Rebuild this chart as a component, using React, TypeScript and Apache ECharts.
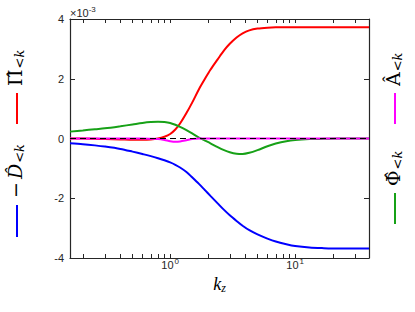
import React, { useEffect, useRef } from "react";
import * as echarts from "echarts";

const kRange = [0.158, 39];
const kz = [0.158, 0.2, 0.25, 0.3, 0.4, 0.5, 0.6, 0.7, 0.8, 0.9, 1.0, 1.1, 1.2, 1.35, 1.5, 1.7, 1.9, 2.1, 2.4, 2.7, 3.0, 3.4, 3.8, 4.3, 5.0, 6.0, 7.0, 8.5, 10, 13, 17, 22, 30, 39];
const piLess = [0.0, 0.0, -0.01, -0.02, -0.03, -0.04, -0.04, -0.03, 0.0, 0.06, 0.15, 0.3, 0.5, 0.85, 1.2, 1.65, 2.0, 2.3, 2.65, 2.95, 3.17, 3.38, 3.52, 3.62, 3.68, 3.71, 3.72, 3.72, 3.72, 3.72, 3.72, 3.72, 3.72, 3.72];
const dLess = [-0.16, -0.19, -0.23, -0.27, -0.35, -0.44, -0.52, -0.59, -0.66, -0.73, -0.8, -0.88, -0.97, -1.12, -1.3, -1.52, -1.73, -1.92, -2.17, -2.39, -2.57, -2.76, -2.92, -3.07, -3.21, -3.35, -3.45, -3.54, -3.6, -3.65, -3.67, -3.68, -3.68, -3.68];
const phiLess = [0.23, 0.27, 0.31, 0.34, 0.41, 0.47, 0.52, 0.55, 0.56, 0.55, 0.52, 0.46, 0.39, 0.28, 0.17, 0.03, -0.07, -0.16, -0.29, -0.39, -0.46, -0.51, -0.52, -0.48, -0.39, -0.26, -0.17, -0.09, -0.05, -0.02, -0.01, 0.0, 0.0, 0.0];
const aLess = [0.0, 0.0, 0.0, 0.0, 0.0, 0.0, 0.0, -0.01, -0.02, -0.05, -0.09, -0.11, -0.1, -0.06, -0.02, 0.0, 0.0, 0.0, 0.0, 0.0, 0.0, 0.0, 0.0, 0.0, 0.0, 0.0, 0.0, 0.0, 0.0, 0.0, 0.0, 0.0, 0.0, 0.0];
const labelTicks = [1, 10];
const allTicks = [0.2, 0.3, 0.4, 0.5, 0.6, 0.7, 0.8, 0.9, 1, 2, 3, 4, 5, 6, 7, 8, 9, 10, 20, 30];
const yRange = [-4, 4];
const yStep = 2;

const AX = "#262626";
const LBL = "#262626";
const SANS = "'Liberation Sans', Arial, sans-serif";
const SERIF = "'Liberation Serif', 'DejaVu Serif', serif";
const LF = "'DejaVu Serif', serif";

const GRID = { left: 70, right: 46, top: 19, bottom: 54 };
const W = 415;
const H = 312;
const plotW = W - GRID.left - GRID.right;
const plotH = H - GRID.top - GRID.bottom;

const legendRich = {
  m: { fontFamily: LF, fontSize: 19, color: "#000" },
  n: { fontFamily: LF, fontSize: 19, color: "#000", padding: [0, 3, 0, 0] },
  i: { fontFamily: LF, fontSize: 19, fontStyle: "italic", color: "#000" },
  s: { fontFamily: LF, fontSize: 13, color: "#000", padding: [9, 0, 0, 1] },
  si: { fontFamily: LF, fontSize: 13, fontStyle: "italic", color: "#000", padding: [9, 0, 0, 0] },
};

function legendItem(x: number, lineTop: number, lineBottom: number, color: string, text: string) {
  return [
    {
      type: "line",
      shape: { x1: x, y1: lineTop, x2: x, y2: lineBottom },
      style: { stroke: color, lineWidth: 2 },
    },
    {
      type: "text",
      x: x - 2,
      y: lineTop - 7,
      rotation: Math.PI / 2,
      style: { text, rich: legendRich, align: "left", verticalAlign: "middle" },
    },
  ];
}

export default function App() {
  const ref = useRef<HTMLDivElement>(null);
  useEffect(() => {
    if (!ref.current) return;
    const chart = echarts.init(ref.current, null, { renderer: "svg" });
    const mk = (vals: number[]) => kz.map((k, i) => [k, vals[i]]);
    const noTick = { show: false };
    const tickStyle = (len: number, vals?: number[]) => ({
      show: true, inside: false, length: len, lineStyle: { color: AX, width: 1 },
      ...(vals ? { customValues: vals } : {}),
    });
    const logAxis = (pos: string, lineShow: boolean, tick: any, offset: number, extra: any = {}) => ({
      type: "log",
      logBase: 10,
      position: pos,
      offset,
      min: kRange[0],
      max: kRange[1],
      axisLine: { show: lineShow, onZero: false, lineStyle: { color: AX, width: 1.2 } },
      axisTick: tick,
      axisLabel: { show: false },
      splitLine: { show: false },
      minorTick: { show: false },
      ...extra,
    });
    const valAxis = (pos: string, lineShow: boolean, tick: any, offset: number, extra: any = {}) => ({
      type: "value",
      position: pos,
      offset,
      min: yRange[0],
      max: yRange[1],
      interval: yStep,
      axisLine: { show: lineShow, onZero: false, lineStyle: { color: AX, width: 1.2 } },
      axisTick: tick,
      axisLabel: { show: false },
      splitLine: { show: false },
      ...extra,
    });
    chart.setOption({
      animation: false,
      grid: { ...GRID, containLabel: false },
      xAxis: [
        logAxis("bottom", true, noTick, 0, {
          axisLabel: {
            show: true,
            customValues: labelTicks,
            margin: -1,
            formatter: (v: number) => "{b|10}{s|" + Math.round(Math.log10(v)) + "}",
            rich: {
              b: { fontFamily: SANS, fontSize: 11, color: LBL },
              s: { fontFamily: SANS, fontSize: 8, color: LBL, padding: [0, 0, 8, 1] },
            },
          },
          name: "{k|k}{z|z}",
          nameLocation: "middle",
          nameGap: 12,
          nameTextStyle: {
            rich: {
              k: { fontFamily: SERIF, fontSize: 18, fontStyle: "italic", color: "#000" },
              z: { fontFamily: SERIF, fontSize: 12, fontStyle: "italic", color: "#000", padding: [8, 0, 0, 0] },
            },
          },
        }),
        logAxis("top", true, noTick, 0),
        logAxis("top", false, tickStyle(4, allTicks), -plotH),
        logAxis("bottom", false, tickStyle(4, allTicks), -plotH),
      ],
      yAxis: [
        valAxis("left", true, noTick, 0, {
          axisLabel: { show: true, margin: 6, fontFamily: SANS, fontSize: 11, color: LBL },
        }),
        valAxis("right", true, noTick, 0),
        valAxis("right", false, tickStyle(5), -plotW),
        valAxis("left", false, tickStyle(5), -plotW),
      ],
      series: [
        { name: "Pi", type: "line", data: mk(piLess), showSymbol: false, smooth: 0.3, lineStyle: { color: "#ff0000", width: 2 }, itemStyle: { color: "#ff0000" } },
        { name: "D", type: "line", data: mk(dLess), showSymbol: false, smooth: 0.3, lineStyle: { color: "#0000ff", width: 2 }, itemStyle: { color: "#0000ff" } },
        { name: "Phi", type: "line", data: mk(phiLess), showSymbol: false, smooth: 0.3, lineStyle: { color: "#17a117", width: 2 }, itemStyle: { color: "#17a117" } },
        {
          name: "A", type: "line", data: mk(aLess), showSymbol: false, smooth: 0.3,
          lineStyle: { color: "#ff00ff", width: 2 }, itemStyle: { color: "#ff00ff" },
          markLine: {
            silent: true, symbol: "none", label: { show: false },
            lineStyle: { color: "#000", type: [6, 4], width: 1 },
            data: [{ yAxis: 0 }],
          },
        },
      ],
      graphic: [
        {
          type: "text",
          x: 70,
          y: 13,
          style: {
            text: "×10{s|-3}",
            rich: { s: { fontFamily: SANS, fontSize: 8, color: LBL, padding: [0, 0, 7, 0] } },
            fontFamily: SANS,
            fontSize: 11,
            fill: LBL,
            align: "left",
            verticalAlign: "middle",
          },
        },
        ...legendItem(17, 93, 124, "#ff0000", "{m|Π\u0302}{s|<}{si|k}"),
        ...legendItem(17, 205, 237, "#0000ff", "{n|−}{i|D\u0302}{s|<}{si|k}"),
        ...legendItem(395, 93, 124, "#ff00ff", "{m|A\u0302}{s|<}{si|k}"),
        ...legendItem(395, 193, 224, "#17a117", "{m|Φ\u0302}{s|<}{si|k}"),
      ],
    });
    return () => chart.dispose();
  }, []);
  return <div ref={ref} style={{ position: "fixed", left: 0, top: 0, width: W, height: H, background: "#fff" }} />;
}
